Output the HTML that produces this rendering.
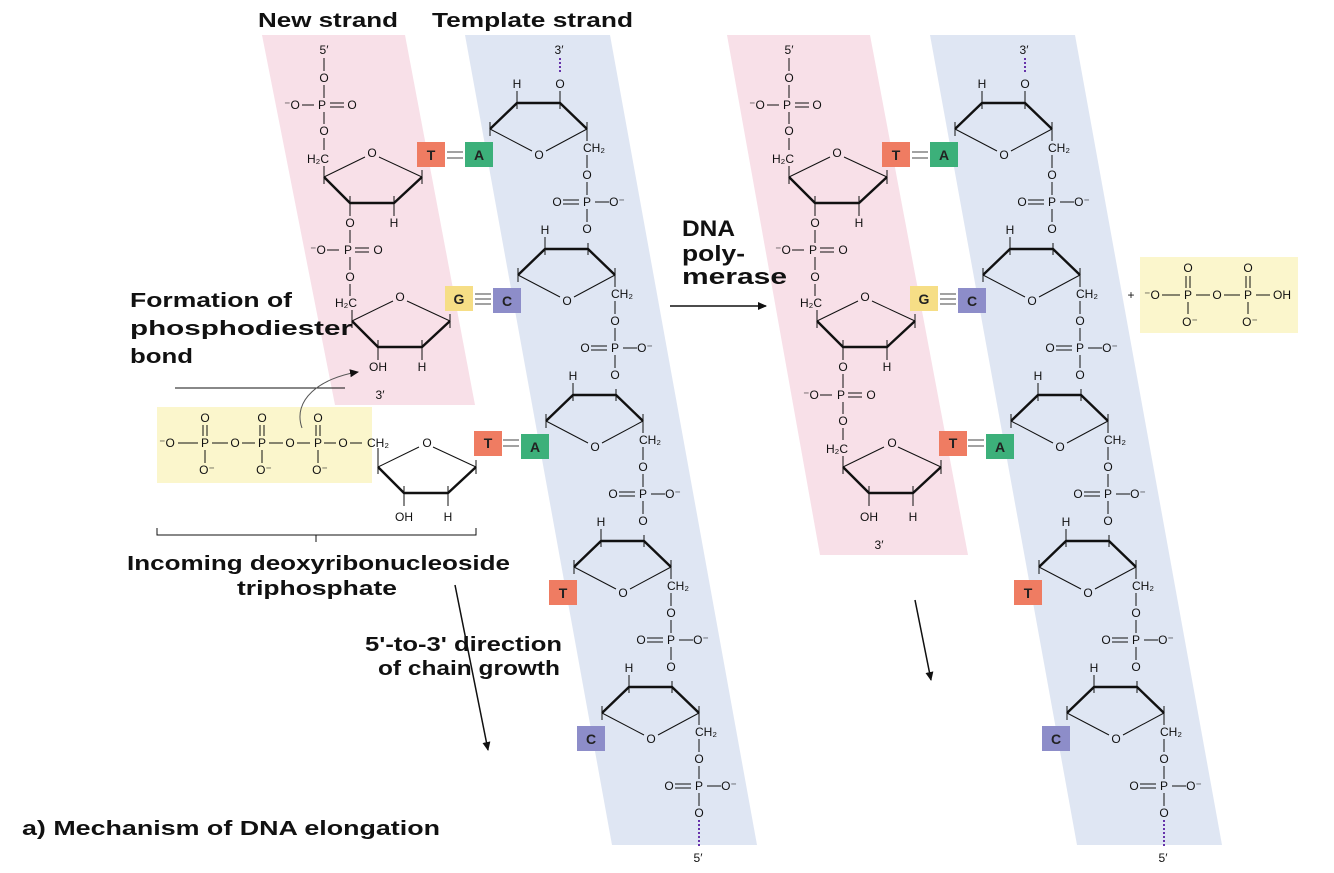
<!DOCTYPE html>
<html><head><meta charset="utf-8"><style>
html,body{margin:0;padding:0;background:#fff}
svg{display:block}
.c{font-family:"Liberation Sans",sans-serif;font-size:12px;fill:#111;text-anchor:middle;dominant-baseline:central}
.b{font-family:"Liberation Sans",sans-serif;font-weight:bold;fill:#111}
.bs{font-family:"Liberation Sans",sans-serif;font-weight:bold;font-size:14px;text-anchor:middle;dominant-baseline:central;fill:#222}
</style></head><body>
<svg width="1334" height="873" viewBox="0 0 1334 873" xmlns="http://www.w3.org/2000/svg">
<defs>
<g id="ts" fill="none" stroke="#111">
 <path d="M-27,26 L0,0 L43,0 L70,26" stroke-width="2.4"/>
 <path d="M-27,26 L15,48 M29,48 L70,26" stroke-width="1"/>
 <path d="M-27,19V33 M70,19V33 M0,-6V6 M43,-6V6 M0,-12V0 M70,26V38 M70,52V65 M70,79V92 M70,106V119" stroke-width="1"/>
 <path d="M46,97H62 M46,101H62 M78,99H92" stroke-width="1"/>
</g>
<g id="ns" fill="none" stroke="#111">
 <path d="M-98,0 L-72,26 L-28,26 L0,0" stroke-width="2.4"/>
 <path d="M-98,0 L-57,-20 M-43,-20 L0,0" stroke-width="1"/>
 <path d="M-98,-7V7 M0,-7V7 M-72,19V33 M-28,19V33 M-72,26V39 M-28,26V39 M-98,0V-11" stroke-width="1"/>
</g>
<marker id="ah" markerWidth="10" markerHeight="10" refX="8" refY="5" orient="auto" markerUnits="userSpaceOnUse"><path d="M0,1 L9,5 L0,9 Z" fill="#111"/></marker>
</defs>

<polygon points="262,35 405,35 475,405 335,405" fill="#f8e0e8"/>
<polygon points="465,35 610,35 757,845 612,845" fill="#dfe6f3"/>
<polygon points="727,35 870,35 968,555 820,555" fill="#f8e0e8"/>
<polygon points="930,35 1075,35 1222,845 1077,845" fill="#dfe6f3"/>

<rect x="157" y="407" width="215" height="76" fill="#fbf6cc"/>
<rect x="1140" y="257" width="158" height="76" fill="#fbf6cc"/>

<text class="b" x="258" y="27" font-size="20" textLength="140" lengthAdjust="spacingAndGlyphs">New strand</text>
<text class="b" x="432" y="27" font-size="20" textLength="201" lengthAdjust="spacingAndGlyphs">Template strand</text>
<text class="b" x="130" y="307" font-size="20" textLength="162" lengthAdjust="spacingAndGlyphs">Formation of</text>
<text class="b" x="130" y="335" font-size="20" textLength="222" lengthAdjust="spacingAndGlyphs">phosphodiester</text>
<text class="b" x="130" y="363" font-size="20" textLength="63" lengthAdjust="spacingAndGlyphs">bond</text>
<line x1="175" y1="388" x2="345" y2="388" stroke="#111" stroke-width="1"/>
<path d="M302,428 C292,400 320,378 358,372" fill="none" stroke="#555" stroke-width="1" marker-end="url(#ah)"/>
<text class="b" x="127" y="570" font-size="20" textLength="383" lengthAdjust="spacingAndGlyphs">Incoming deoxyribonucleoside</text>
<text class="b" x="237" y="595" font-size="20" textLength="160" lengthAdjust="spacingAndGlyphs">triphosphate</text>
<path d="M157,528V535H476V528 M316,535V542" fill="none" stroke="#111" stroke-width="1"/>
<text class="b" x="365" y="651" font-size="20" textLength="197" lengthAdjust="spacingAndGlyphs">5'-to-3' direction</text>
<text class="b" x="378" y="675" font-size="20" textLength="182" lengthAdjust="spacingAndGlyphs">of chain growth</text>
<line x1="455" y1="585" x2="488" y2="750" stroke="#111" stroke-width="1.5" marker-end="url(#ah)"/>
<line x1="915" y1="600" x2="931" y2="680" stroke="#111" stroke-width="1.5" marker-end="url(#ah)"/>
<text class="b" x="682" y="236" font-size="22" textLength="53" lengthAdjust="spacingAndGlyphs">DNA</text>
<text class="b" x="682" y="261" font-size="22" textLength="63" lengthAdjust="spacingAndGlyphs">poly-</text>
<text class="b" x="682" y="284" font-size="22" textLength="105" lengthAdjust="spacingAndGlyphs">merase</text>
<line x1="670" y1="306" x2="766" y2="306" stroke="#111" stroke-width="1.5" marker-end="url(#ah)"/>
<text class="b" x="22" y="835" font-size="20" textLength="418" lengthAdjust="spacingAndGlyphs">a) Mechanism of DNA elongation</text>

<g id="tmplL">
<text class="c" x="559" y="50" font-size="13">3′</text>
<line x1="560" y1="58" x2="560" y2="74" stroke="#6633aa" stroke-width="2" stroke-dasharray="2,2"/>
<g transform="translate(517,103)"><use href="#ts"/><line x1="43" y1="-12" x2="43" y2="0" stroke="#111"/>
<text class="c" x="43" y="-19">O</text><text class="c" x="0" y="-19">H</text><text class="c" x="22" y="52">O</text><text class="c" x="77" y="45">CH₂</text><text class="c" x="70" y="72">O</text><text class="c" x="40" y="99">O</text><text class="c" x="70" y="99">P</text><text class="c" x="100" y="99">O⁻</text><text class="c" x="70" y="126">O</text></g>
<g transform="translate(545,249)"><use href="#ts"/>
<text class="c" x="0" y="-19">H</text><text class="c" x="22" y="52">O</text><text class="c" x="77" y="45">CH₂</text><text class="c" x="70" y="72">O</text><text class="c" x="40" y="99">O</text><text class="c" x="70" y="99">P</text><text class="c" x="100" y="99">O⁻</text><text class="c" x="70" y="126">O</text></g>
<g transform="translate(573,395)"><use href="#ts"/>
<text class="c" x="0" y="-19">H</text><text class="c" x="22" y="52">O</text><text class="c" x="77" y="45">CH₂</text><text class="c" x="70" y="72">O</text><text class="c" x="40" y="99">O</text><text class="c" x="70" y="99">P</text><text class="c" x="100" y="99">O⁻</text><text class="c" x="70" y="126">O</text></g>
<g transform="translate(601,541)"><use href="#ts"/>
<text class="c" x="0" y="-19">H</text><text class="c" x="22" y="52">O</text><text class="c" x="77" y="45">CH₂</text><text class="c" x="70" y="72">O</text><text class="c" x="40" y="99">O</text><text class="c" x="70" y="99">P</text><text class="c" x="100" y="99">O⁻</text><text class="c" x="70" y="126">O</text></g>
<g transform="translate(629,687)"><use href="#ts"/>
<text class="c" x="0" y="-19">H</text><text class="c" x="22" y="52">O</text><text class="c" x="77" y="45">CH₂</text><text class="c" x="70" y="72">O</text><text class="c" x="40" y="99">O</text><text class="c" x="70" y="99">P</text><text class="c" x="100" y="99">O⁻</text><text class="c" x="70" y="126">O</text>
<line x1="70" y1="133" x2="70" y2="160" stroke="#6633aa" stroke-width="2" stroke-dasharray="2,2"/><text class="c" x="69" y="171" font-size="13">5′</text></g>
<rect x="465" y="142" width="28" height="25" fill="#3cb07a"/><text class="bs" x="479" y="155">A</text>
<rect x="493" y="288" width="28" height="25" fill="#8d8dc9"/><text class="bs" x="507" y="301">C</text>
<rect x="521" y="434" width="28" height="25" fill="#3cb07a"/><text class="bs" x="535" y="447">A</text>
<rect x="549" y="580" width="28" height="25" fill="#ef7c62"/><text class="bs" x="563" y="593">T</text>
<rect x="577" y="726" width="28" height="25" fill="#8d8dc9"/><text class="bs" x="591" y="739">C</text>
</g>

<text class="c" x="324" y="50" font-size="13">5′</text>
<path d="M324,58V71 M324,85V98 M302,105H314 M330,103H344 M330,107H344 M324,112V124 M324,138V150" stroke="#111" fill="none"/>
<text class="c" x="324" y="78">O</text><text class="c" x="292" y="105">⁻O</text><text class="c" x="322" y="105">P</text><text class="c" x="352" y="105">O</text><text class="c" x="324" y="131">O</text>
<g transform="translate(422,177)"><use href="#ns"/><text class="c" x="-50" y="-24">O</text><text class="c" x="-104" y="-18">H₂C</text><text class="c" x="-72" y="46">O</text><text class="c" x="-28" y="46">H</text></g>
<path d="M350,230V243 M327,250H339 M355,248H369 M355,252H369 M350,257V270 M350,284V296" stroke="#111" fill="none"/>
<text class="c" x="318" y="250">⁻O</text><text class="c" x="348" y="250">P</text><text class="c" x="378" y="250">O</text><text class="c" x="350" y="277">O</text>
<g transform="translate(450,321)"><use href="#ns"/><text class="c" x="-50" y="-24">O</text><text class="c" x="-104" y="-18">H₂C</text><text class="c" x="-72" y="46">OH</text><text class="c" x="-28" y="46">H</text></g>
<text class="c" x="380" y="395" font-size="13">3′</text>
<rect x="417" y="142" width="28" height="25" fill="#ef7c62"/><text class="bs" x="431" y="155">T</text>
<rect x="445" y="286" width="28" height="25" fill="#f6de86"/><text class="bs" x="459" y="299">G</text>
<path d="M447,152H463 M447,158H463 M475,294H491 M475,299H491 M475,304H491" stroke="#444" fill="none"/>
<g transform="translate(476,467)"><use href="#ns"/><text class="c" x="-49" y="-24">O</text><text class="c" x="-72" y="50">OH</text><text class="c" x="-28" y="50">H</text></g>
<rect x="474" y="431" width="28" height="25" fill="#ef7c62"/><text class="bs" x="488" y="443">T</text>
<path d="M503,440H519 M503,446H519" stroke="#444" fill="none"/>
<g stroke="#111" fill="none"><path d="M178,443H198 M212,443H228 M242,443H255 M269,443H283 M297,443H310 M324,443H336 M350,443H362 M203,425V436 M207,425V436 M260,425V436 M264,425V436 M316,425V436 M320,425V436 M205,450V463 M262,450V463 M318,450V463 M378,448V467"/></g>
<text class="c" x="167" y="443">⁻O</text><text class="c" x="205" y="443">P</text><text class="c" x="235" y="443">O</text><text class="c" x="262" y="443">P</text><text class="c" x="290" y="443">O</text><text class="c" x="318" y="443">P</text><text class="c" x="343" y="443">O</text><text class="c" x="378" y="443">CH₂</text>
<text class="c" x="205" y="418">O</text><text class="c" x="262" y="418">O</text><text class="c" x="318" y="418">O</text>
<text class="c" x="207" y="470">O⁻</text><text class="c" x="264" y="470">O⁻</text><text class="c" x="320" y="470">O⁻</text>

<g transform="translate(465,0)">
<text class="c" x="559" y="50" font-size="13">3′</text>
<line x1="560" y1="58" x2="560" y2="74" stroke="#6633aa" stroke-width="2" stroke-dasharray="2,2"/>
<g transform="translate(517,103)"><use href="#ts"/><line x1="43" y1="-12" x2="43" y2="0" stroke="#111"/>
<text class="c" x="43" y="-19">O</text><text class="c" x="0" y="-19">H</text><text class="c" x="22" y="52">O</text><text class="c" x="77" y="45">CH₂</text><text class="c" x="70" y="72">O</text><text class="c" x="40" y="99">O</text><text class="c" x="70" y="99">P</text><text class="c" x="100" y="99">O⁻</text><text class="c" x="70" y="126">O</text></g>
<g transform="translate(545,249)"><use href="#ts"/>
<text class="c" x="0" y="-19">H</text><text class="c" x="22" y="52">O</text><text class="c" x="77" y="45">CH₂</text><text class="c" x="70" y="72">O</text><text class="c" x="40" y="99">O</text><text class="c" x="70" y="99">P</text><text class="c" x="100" y="99">O⁻</text><text class="c" x="70" y="126">O</text></g>
<g transform="translate(573,395)"><use href="#ts"/>
<text class="c" x="0" y="-19">H</text><text class="c" x="22" y="52">O</text><text class="c" x="77" y="45">CH₂</text><text class="c" x="70" y="72">O</text><text class="c" x="40" y="99">O</text><text class="c" x="70" y="99">P</text><text class="c" x="100" y="99">O⁻</text><text class="c" x="70" y="126">O</text></g>
<g transform="translate(601,541)"><use href="#ts"/>
<text class="c" x="0" y="-19">H</text><text class="c" x="22" y="52">O</text><text class="c" x="77" y="45">CH₂</text><text class="c" x="70" y="72">O</text><text class="c" x="40" y="99">O</text><text class="c" x="70" y="99">P</text><text class="c" x="100" y="99">O⁻</text><text class="c" x="70" y="126">O</text></g>
<g transform="translate(629,687)"><use href="#ts"/>
<text class="c" x="0" y="-19">H</text><text class="c" x="22" y="52">O</text><text class="c" x="77" y="45">CH₂</text><text class="c" x="70" y="72">O</text><text class="c" x="40" y="99">O</text><text class="c" x="70" y="99">P</text><text class="c" x="100" y="99">O⁻</text><text class="c" x="70" y="126">O</text>
<line x1="70" y1="133" x2="70" y2="160" stroke="#6633aa" stroke-width="2" stroke-dasharray="2,2"/><text class="c" x="69" y="171" font-size="13">5′</text></g>
<rect x="465" y="142" width="28" height="25" fill="#3cb07a"/><text class="bs" x="479" y="155">A</text>
<rect x="493" y="288" width="28" height="25" fill="#8d8dc9"/><text class="bs" x="507" y="301">C</text>
<rect x="521" y="434" width="28" height="25" fill="#3cb07a"/><text class="bs" x="535" y="447">A</text>
<rect x="549" y="580" width="28" height="25" fill="#ef7c62"/><text class="bs" x="563" y="593">T</text>
<rect x="577" y="726" width="28" height="25" fill="#8d8dc9"/><text class="bs" x="591" y="739">C</text>

<text class="c" x="324" y="50" font-size="13">5′</text>
<path d="M324,58V71 M324,85V98 M302,105H314 M330,103H344 M330,107H344 M324,112V124 M324,138V150" stroke="#111" fill="none"/>
<text class="c" x="324" y="78">O</text><text class="c" x="292" y="105">⁻O</text><text class="c" x="322" y="105">P</text><text class="c" x="352" y="105">O</text><text class="c" x="324" y="131">O</text>
<g transform="translate(422,177)"><use href="#ns"/><text class="c" x="-50" y="-24">O</text><text class="c" x="-104" y="-18">H₂C</text><text class="c" x="-72" y="46">O</text><text class="c" x="-28" y="46">H</text></g>
<path d="M350,230V243 M327,250H339 M355,248H369 M355,252H369 M350,257V270 M350,284V296" stroke="#111" fill="none"/>
<text class="c" x="318" y="250">⁻O</text><text class="c" x="348" y="250">P</text><text class="c" x="378" y="250">O</text><text class="c" x="350" y="277">O</text>
<g transform="translate(450,321)"><use href="#ns"/><text class="c" x="-50" y="-24">O</text><text class="c" x="-104" y="-18">H₂C</text><text class="c" x="-72" y="46">O</text><text class="c" x="-28" y="46">H</text></g>
<path d="M378,374V388 M355,395H367 M383,393H397 M383,397H397 M378,402V414 M378,428V440" stroke="#111" fill="none"/>
<text class="c" x="346" y="395">⁻O</text><text class="c" x="376" y="395">P</text><text class="c" x="406" y="395">O</text><text class="c" x="378" y="421">O</text>
<g transform="translate(476,467)"><use href="#ns"/><text class="c" x="-49" y="-24">O</text><text class="c" x="-104" y="-18">H₂C</text><text class="c" x="-72" y="50">OH</text><text class="c" x="-28" y="50">H</text></g>
<text class="c" x="414" y="545" font-size="13">3′</text>
<rect x="417" y="142" width="28" height="25" fill="#ef7c62"/><text class="bs" x="431" y="155">T</text>
<rect x="445" y="286" width="28" height="25" fill="#f6de86"/><text class="bs" x="459" y="299">G</text>
<rect x="474" y="431" width="28" height="25" fill="#ef7c62"/><text class="bs" x="488" y="443">T</text>
<path d="M447,152H463 M447,158H463 M475,294H491 M475,299H491 M475,304H491 M503,440H519 M503,446H519" stroke="#444" fill="none"/>
</g>

<text class="c" x="1131" y="295" font-size="14">+</text>
<g stroke="#111" fill="none"><path d="M1162,295H1180 M1196,295H1210 M1224,295H1240 M1256,295H1270 M1186,276V288 M1190,276V288 M1246,276V288 M1250,276V288 M1188,302V314 M1248,302V314"/></g>
<text class="c" x="1152" y="295">⁻O</text><text class="c" x="1188" y="295">P</text><text class="c" x="1217" y="295">O</text><text class="c" x="1248" y="295">P</text><text class="c" x="1282" y="295">OH</text>
<text class="c" x="1188" y="268">O</text><text class="c" x="1248" y="268">O</text>
<text class="c" x="1190" y="322">O⁻</text><text class="c" x="1250" y="322">O⁻</text>
</svg>
</body></html>
